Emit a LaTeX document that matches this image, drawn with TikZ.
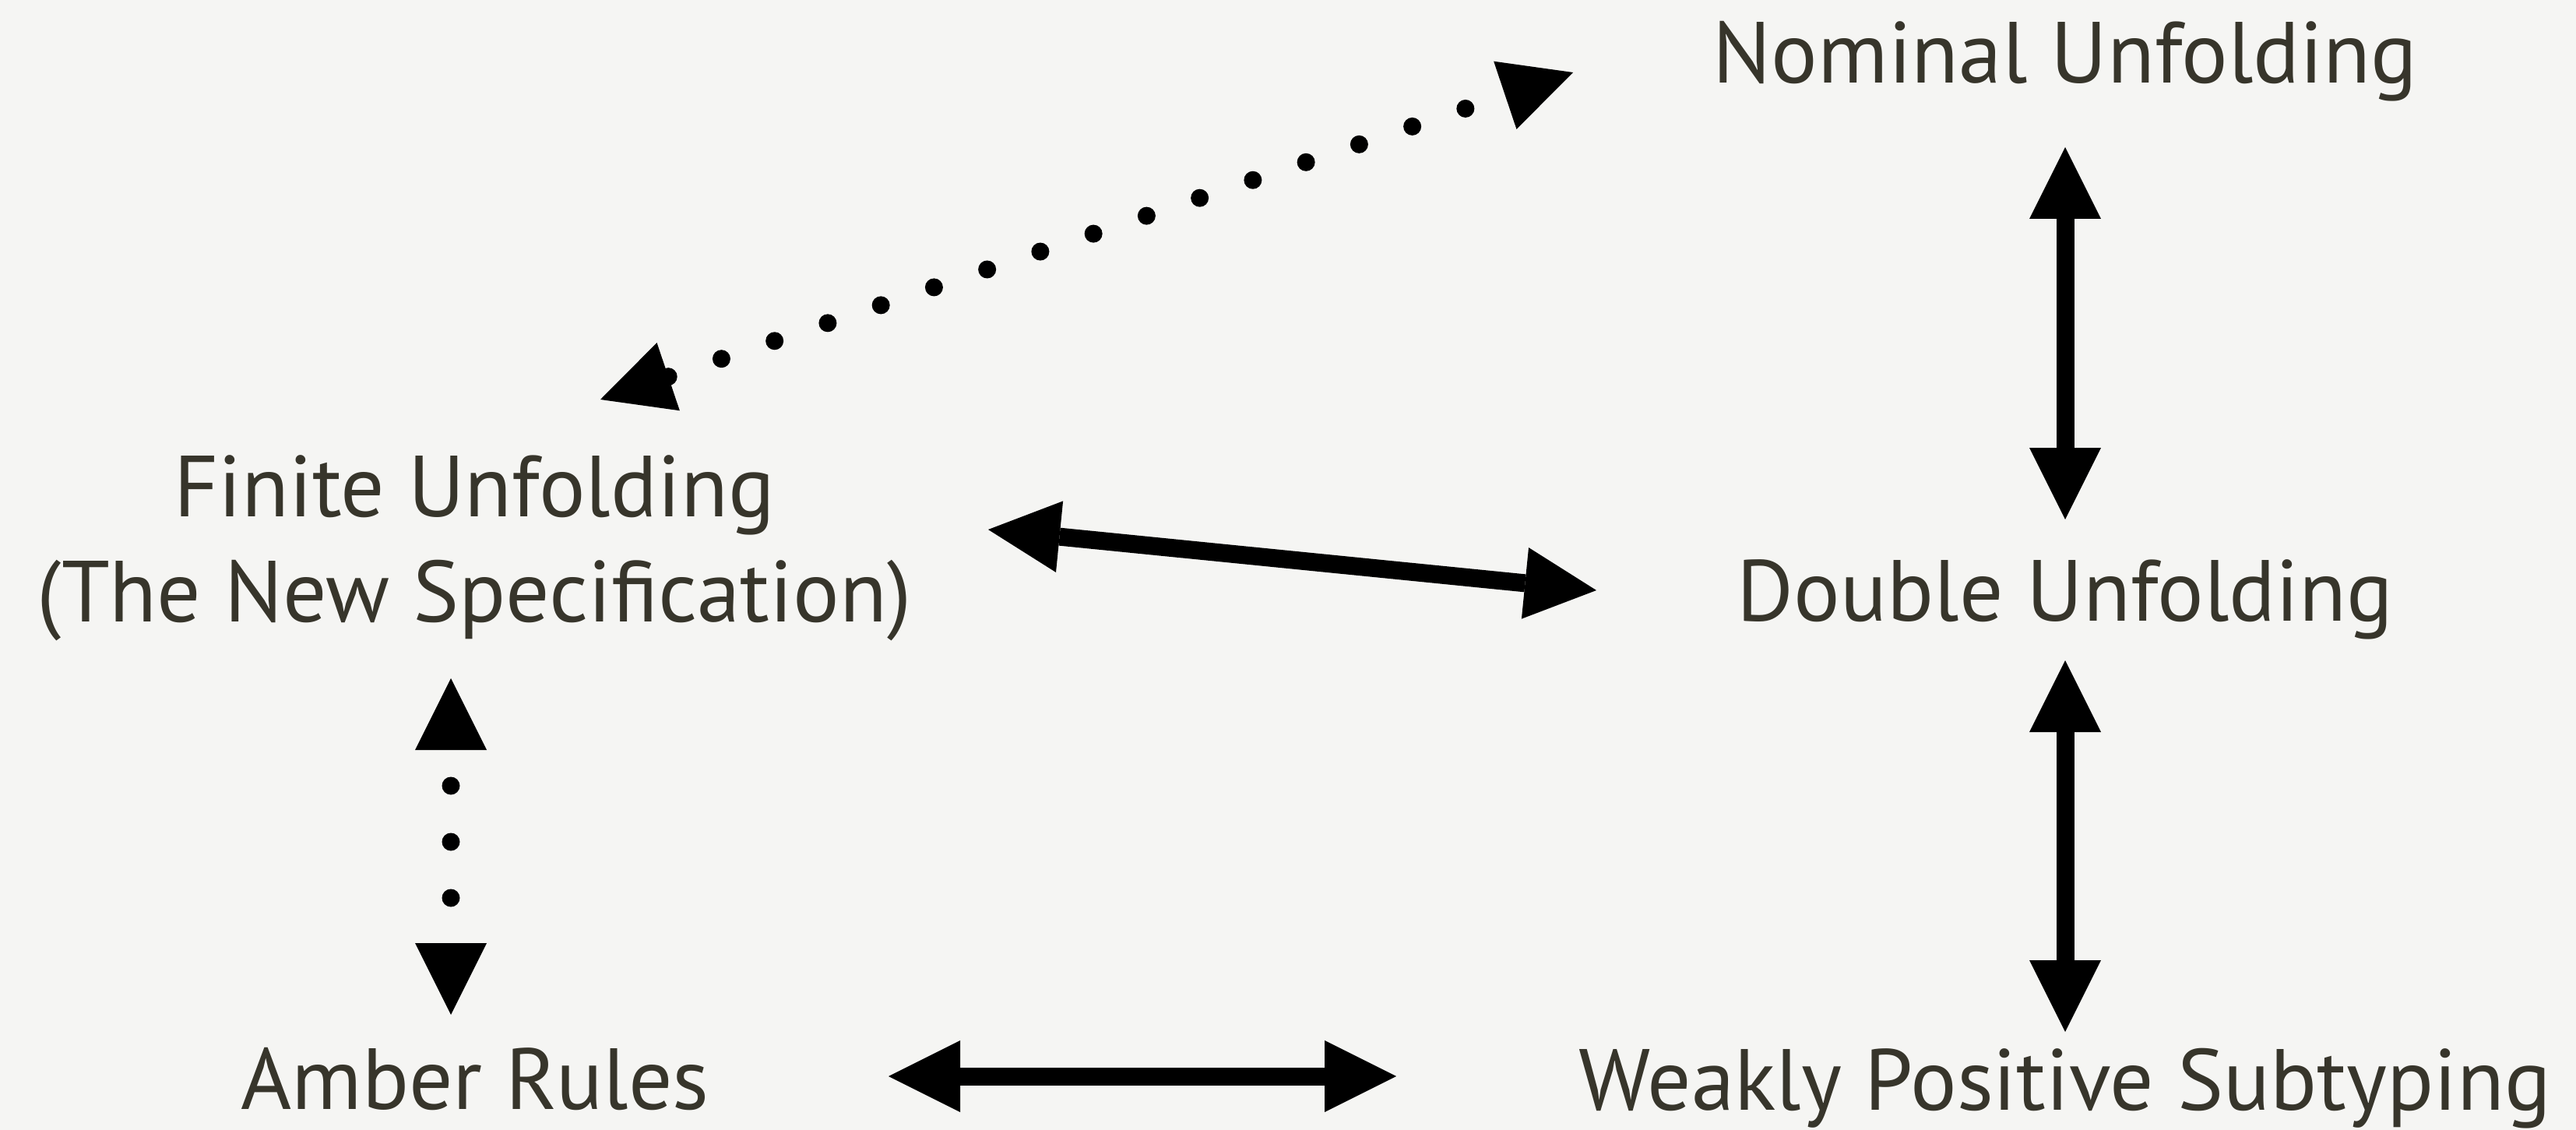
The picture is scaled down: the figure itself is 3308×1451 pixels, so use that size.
\documentclass[tikz,border=0pt]{standalone}
\usepackage{fontspec}
\setmainfont{PT Sans}
\usetikzlibrary{arrows.meta}
\definecolor{paper}{RGB}{245,245,243}
\definecolor{ink}{RGB}{55,53,43}
\begin{document}
\begin{tikzpicture}[x=0.1mm,y=-0.1mm,
    claim/.style={anchor=base,inner sep=0pt,text=ink,align=center,
      font=\fontsize{31.7pt}{38.3pt}\selectfont},
    both/.style={line width=2.3mm,
      >={Triangle[length=9.2mm,width=9.2mm,line width=0pt]},<->},
    dots/.style={both,line cap=round,dash pattern=on 0pt off 7.2mm}]
        \fill[paper] (0,0) rectangle (3308,1451);
        \coordinate (N) at (2652,107);
        \coordinate (F) at (609,798);
        \coordinate (D) at (2652,797);
        \coordinate (A) at (610,1424);
        \coordinate (W) at (2652,1425);
        \node[claim] (nominal) at (N) {Nominal Unfolding};
        \node[claim] (finite) at (F) {Finite Unfolding\\(The New Specification)};
        \node[claim] (double) at (D) {Double Unfolding};
        \node[claim] (amber) at (A) {Amber Rules};
        \node[claim] (weakly) at (W) {Weakly Positive Subtyping};
        \draw[both] ([yshift=-8.2mm]nominal.base) -- ([yshift=13mm]double.base);
        \draw[both] ([yshift=-5.1mm]double.base) -- ([yshift=10mm]weakly.base);
        \draw[both] ([shift={(660,-118)}]finite.base) -- ([shift={(-602,-39)}]double.base);
        \draw[both] ([shift={(531,-42)}]amber.base) -- ([shift={(-859,-43)}]weakly.base);
        \draw[dots] ([shift={(162,-285)}]finite.base) -- ([shift={(-632,-14)}]nominal.base);
        \draw[dots,dash phase=2.6mm]
          ([shift={(-30,73)}]finite.base) -- ([shift={(-31,-121)}]amber.base);
    \end{tikzpicture}
\end{document}
